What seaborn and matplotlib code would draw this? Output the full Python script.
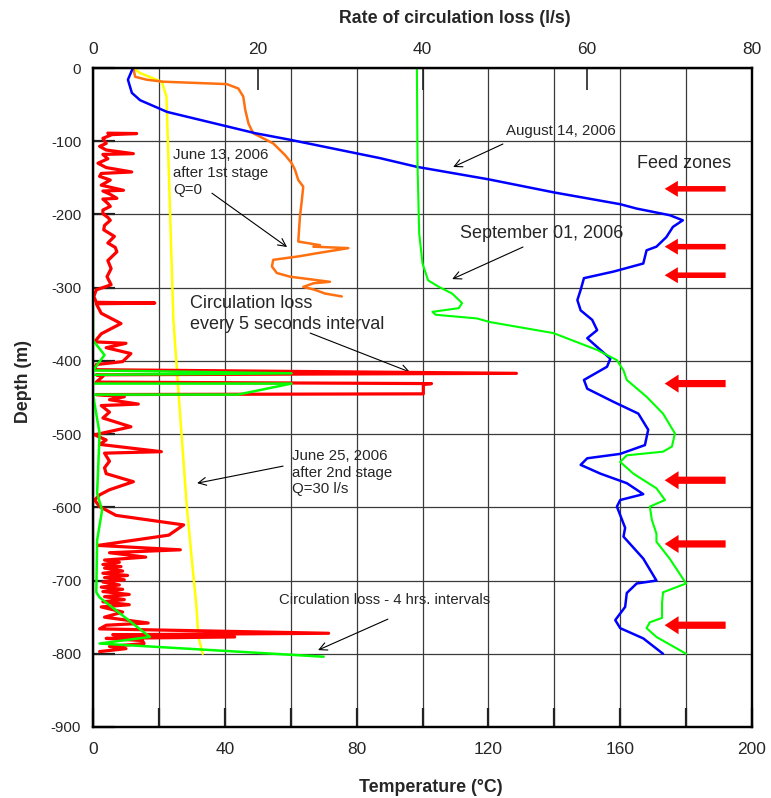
import matplotlib
matplotlib.use("Agg")
import matplotlib.pyplot as plt
import seaborn as sns
import numpy as np

sns.set_style("white")
plt.rcParams['font.family'] = ['Liberation Sans', 'DejaVu Sans']
plt.rcParams['axes.unicode_minus'] = False

# ---------------- data: temperature logs (°C) vs depth (m) ----------------
aug14_temp = [12.1, 10.6, 11.8, 14.3, 22.5, 49.2, 59.8, 87, 98.3, 120, 140, 160, 165, 175, 179,
              176, 174, 171, 168, 167, 158, 149, 148, 147, 148, 151.5, 153, 150, 153, 157, 156,
              149, 150, 158, 165.5, 168.5, 167.5, 160, 150, 148, 154, 162, 167, 160, 159, 161.5,
              161, 167, 171, 165, 162, 161.5, 160, 158.5, 160, 167, 173]
aug14_depth = [0, -16, -34, -44, -60, -89, -98, -123, -135, -152, -170, -186, -192, -201, -208,
               -217, -231, -244, -249, -267, -278, -287, -303, -317, -331, -344, -358, -369, -381,
               -397, -408, -426, -438, -456, -472, -494, -515, -527, -533, -542, -554, -567, -582,
               -590, -599, -628, -640, -670, -700, -704, -717, -736, -745, -754, -765, -779, -800]

sep01_temp = [98.3, 98.5, 99, 100, 101.7, 105, 109, 112, 111, 103, 104, 116.5, 120.5, 139.7, 153,
              159, 161, 162, 168, 173, 176.6, 175.7, 173, 162, 160, 164, 171, 173.6, 169, 169.6,
              171, 171, 175, 180, 173, 172.7, 172.7, 169, 168, 171, 180]
sep01_depth = [0, -135, -226, -267, -290, -299, -308, -321, -328, -333, -337, -342, -347, -362,
               -385, -399, -413, -426, -449, -472, -499, -517, -524, -529, -538, -554, -574, -590,
               -599, -617, -636, -647, -670, -704, -716, -731, -751, -757, -765, -777, -800]

jun25_temp = [12.2, 14.3, 20.9, 22.3, 24.4, 25.9, 28.4, 30.0, 31.4, 32.0, 33.3]
jun25_depth = [0, -7, -19, -39, -344, -440, -595, -672, -736, -777, -800]

jun13_temp = [12.2, 12.8, 16.3, 21.3, 40.6, 44.1, 45.6, 46.2, 47.2, 48.6, 54.7, 58.3, 60.3, 61.3,
              62.3, 63.8, 63.4, 62.8, 62.3, 68.9, 66.9, 77.5, 67.9, 62.8, 54.7, 54.3, 55.8, 59.8,
              71.9, 66.9, 63.8, 67.4, 70.4, 75.5]
jun13_depth = [0, -12, -16, -18.7, -22, -28, -39, -57, -76, -89, -103, -119, -130, -139, -153,
               -162, -180, -203, -237, -242, -244, -246, -253, -257, -262, -271, -280, -285, -292,
               -294, -299, -303, -308, -312]

# ---------------- data: circulation loss (l/s) vs depth (m) ----------------
loss5s_rate = [1.8, 5.3, 2.3, 1.2, 1.6, 0.8, 1.6, 4.9, 1.2, 1.8, 0.6, 1.6, 4.7, 1.0, 0.8, 2.1, 1.0,
               3.7, 1.2, 2.0, 2.9, 1.2, 1.8, 2.1, 1.2, 1.2, 1.8, 2.1, 1.4, 1.3, 2.6, 1.8, 2.7, 2.9,
               1.8, 2.2, 1.7, 2.2, 0.4, 0.1, 0.4, 7.5, 0.4, 1.0, 3.4, 1.0, 0.2, 4.0, 1.6, 4.6, 3.6,
               0.4, 0.2, 51.4, 0.4, 1.2, 0.4, 41.1, 40.1, 40.1, 0.4, 3.8, 2.0, 5.5, 1.0, 2.0, 1.2,
               4.6, 0.2, 1.6, 0.8, 8.3, 1.4, 2.0, 1.4, 1.6, 4.9, 2.0, 0.8, 0.2, 0.8, 2.8, 11.0, 9.2,
               0.6, 10.6, 2.0, 6.4, 1.4, 3.2, 1.2, 3.4, 1.4, 3.6, 1.2, 4.2, 1.4, 3.8, 1.2, 3.2, 1.0,
               3.6, 1.2, 4.4, 1.4, 3.8, 1.2, 4.4, 1.0, 3.6, 1.4, 6.7, 1.6, 0.8, 28.6, 2.4, 17.2, 1.6,
               6.0, 6.2, 2.0, 4.0, 0.8]
loss5s_depth = [-89, -89.5, -91, -96, -103, -107, -112, -117, -118, -124, -130, -136, -142, -144,
                -148, -153, -160, -167, -168, -172, -178, -179, -185, -189, -194, -199, -204, -208,
                -215, -221, -230, -239, -245, -251, -263, -274, -285, -296, -303, -312, -320, -321,
                -322, -335, -349, -363, -374, -376, -382, -390, -401, -405, -412, -417, -419, -421,
                -429, -431, -432, -445, -446, -449, -453, -459, -461, -470, -478, -490, -501, -508,
                -514, -524, -526, -537, -546, -554, -565, -576, -583, -590, -599, -611, -624, -638,
                -652, -658, -662, -668, -672, -675, -678, -681, -683, -687, -690, -693, -696, -699,
                -702, -706, -709, -712, -715, -719, -722, -726, -729, -733, -736, -743, -750, -758,
                -761, -766, -772, -774, -777, -779, -782, -786, -790, -793, -797]

loss4h_rate = [0, 0, 1.4, 0, 24.1, 0, 0, 24.1, 17.6, 0, 0.8, 0.5, 1.1, 0.5, 0.4, 0.8, 6.9, 0.8, 28.0]
loss4h_depth = [-331, -372, -392, -413, -417, -419, -431, -431, -446, -446, -499, -581, -604, -645,
                -716, -723, -777, -786, -804]

feed_zone_depth = [-165, -244, -283, -431, -563, -650, -761]

# ---------------- figure ----------------
fig = plt.figure(figsize=(7.71, 7.98), dpi=100)
ax = fig.add_axes([93 / 771, 1 - 727 / 798, (752 - 93) / 771, (727 - 68) / 798])
ax2 = ax.twiny()

kw = dict(sort=False, estimator=None, legend=False)
sns.lineplot(x=jun25_temp, y=jun25_depth, ax=ax, color='#FFFF00', lw=1.8, **kw)
sns.lineplot(x=jun13_temp, y=jun13_depth, ax=ax, color='#FF7010', lw=1.8, **kw)
sns.lineplot(x=aug14_temp, y=aug14_depth, ax=ax, color='#0000FF', lw=1.8, **kw)
sns.lineplot(x=sep01_temp, y=sep01_depth, ax=ax, color='#00FF00', lw=1.5, **kw)

sns.lineplot(x=loss5s_rate, y=loss5s_depth, ax=ax2, color='#FF0000', lw=2.3, **kw)
sns.lineplot(x=loss4h_rate, y=loss4h_depth, ax=ax2, color='#00FF00', lw=1.8, **kw)

# axes & ticks
ax.set_xlim(0, 200)
ax.set_ylim(-900, 0)
ax2.set_xlim(0, 80)
ax2.set_ylim(-900, 0)
ax.set_xticks(range(0, 201, 40))
ax.set_xticks(range(20, 200, 40), minor=True)
ax.set_yticks(range(-900, 1, 100))
ax.grid(True, which='both', axis='x', color='#3a3a3a', lw=0.9)
ax.grid(True, which='major', axis='y', color='#3a3a3a', lw=0.9)
ax2.grid(False)
ax.tick_params(axis='x', which='both', direction='in', length=14, width=1.6, color='#222222',
               labelsize=12.5, pad=11, top=False, bottom=True)
ax.tick_params(axis='y', direction='in', length=16, width=1.6, color='#222222',
               labelsize=10.8, pad=8.5, left=True, right=False)
ax2.set_xticks([0, 20, 40, 60, 80])
ax2.tick_params(axis='x', direction='in', length=16, width=1.2, color='#222222',
                labelsize=12.5, pad=8, top=True, bottom=False)
for a in (ax, ax2):
    for s in a.spines.values():
        s.set_linewidth(1.6)
        s.set_color('black')

ax.set_xlabel('Temperature (°C)', fontsize=12.8, fontweight='bold')
ax.xaxis.set_label_coords(0.512, -0.079)
ax.set_ylabel('Depth (m)', fontsize=12.8, fontweight='bold')
ax.yaxis.set_label_coords(-0.092, 0.524)
ax2.set_xlabel('Rate of circulation loss (l/s)', fontsize=12.8, fontweight='bold')
ax2.xaxis.set_label_coords(0.549, 1.068)

# feed zone arrows
for i, d in enumerate(feed_zone_depth):
    if i < 3:
        style = 'simple,head_length=0.95,head_width=1.15,tail_width=0.4'
    else:
        style = 'simple,head_length=1.0,head_width=1.3,tail_width=0.52'
    ax.annotate('', xy=(173.5, d), xytext=(192, d),
                arrowprops=dict(arrowstyle=style, color='#FF0000', lw=0, mutation_scale=10,
                                shrinkA=0, shrinkB=0))
ax.text(165.1, -129.8, 'Feed zones', fontsize=13, va='center', ha='left')

# annotations
def note(text, tx, ty, ax_from, ay_from, ax_to, ay_to, size, ls=1.3):
    ax.text(tx, ty, text, fontsize=size, va='center', ha='left', linespacing=ls)
    ax.annotate('', xy=(ax_to, ay_to), xytext=(ax_from, ay_from),
                arrowprops=dict(arrowstyle='->', color='black', lw=0.8, mutation_scale=14,
                                shrinkA=0, shrinkB=0))

note('June 13, 2006\nafter 1st stage\nQ=0', 24.3, -142.8, 36.1, -171, 58.9, -244.5, 10.8, 1.33)
note('August 14, 2006', 125.3, -86, 124.4, -103.8, 109.3, -135.2, 10.8)
note('September 01, 2006', 111.4, -225.4, 130.5, -244.5, 109.0, -288.3, 13)
note('Circulation loss\nevery 5 seconds interval', 29.4, -336, 65.9, -362, 96.2, -415.3, 13, 1.35)
note('June 25, 2006\nafter 2nd stage\nQ=30 l/s', 60.4, -552.6, 57.7, -543.7, 31.6, -567, 10.8, 1.26)
note('Circulation loss - 4 hrs. intervals', 56.4, -726.8, 89.5, -752.7, 68.3, -795, 10.7)

fig.savefig('out.png', dpi=100, facecolor='white')
